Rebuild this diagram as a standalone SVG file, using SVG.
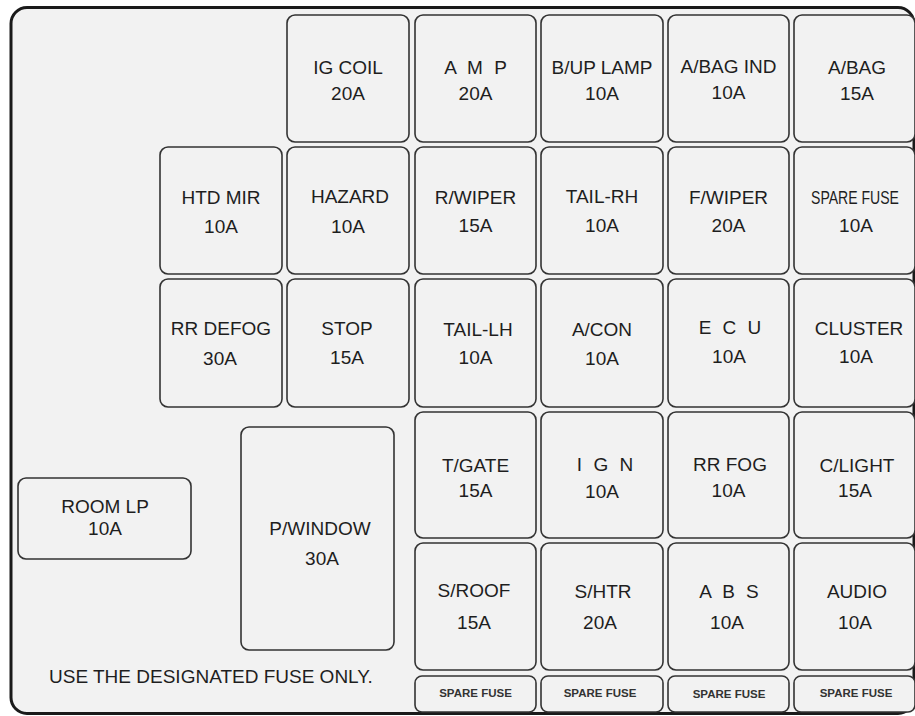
<svg xmlns="http://www.w3.org/2000/svg" width="915" height="716" viewBox="0 0 915 716">
<style>
.bg{fill:#ffffff}
.panel{fill:#f2f2f2;stroke:#1a1a1a;stroke-width:3}
.fuse{fill:#f2f2f2;stroke:#333333;stroke-width:1.6}
text{font-family:"Liberation Sans",Arial,sans-serif;font-size:19px;fill:#1e1e1e;text-anchor:middle}
.sm{font-size:11.5px;font-weight:bold;fill:#333}
.sp{word-spacing:6px}
.note{text-anchor:start}
</style>
<rect class="bg" x="0" y="0" width="915" height="716"/>
<rect class="panel" x="11" y="7.5" width="903" height="706" rx="16"/>

<g id="ig-coil"><rect class="fuse" x="287" y="15" width="122" height="127" rx="8"/><text x="348" y="74">IG COIL</text><text x="348" y="100">20A</text></g>
<g id="amp"><rect class="fuse" x="415" y="15" width="121" height="127" rx="8"/><text class="sp" x="475.5" y="74">A M P</text><text x="475.5" y="100">20A</text></g>
<g id="bup-lamp"><rect class="fuse" x="541" y="15" width="122" height="127" rx="8"/><text x="602" y="74">B/UP LAMP</text><text x="602" y="100">10A</text></g>
<g id="abag-ind"><rect class="fuse" x="668" y="15" width="121" height="127" rx="8"/><text x="728.5" y="73">A/BAG IND</text><text x="728.5" y="99">10A</text></g>
<g id="abag"><rect class="fuse" x="794" y="15" width="121" height="127" rx="8"/><text x="857" y="74">A/BAG</text><text x="857" y="100">15A</text></g>

<g id="htd-mir"><rect class="fuse" x="160" y="147" width="122" height="127" rx="8"/><text x="221" y="204">HTD MIR</text><text x="221" y="233">10A</text></g>
<g id="hazard"><rect class="fuse" x="287" y="147" width="122" height="127" rx="8"/><text x="350" y="203">HAZARD</text><text x="348" y="233">10A</text></g>
<g id="r-wiper"><rect class="fuse" x="415" y="147" width="121" height="127" rx="8"/><text x="475.5" y="204">R/WIPER</text><text x="475.5" y="232">15A</text></g>
<g id="tail-rh"><rect class="fuse" x="541" y="147" width="122" height="127" rx="8"/><text x="602" y="203">TAIL-RH</text><text x="602" y="232">10A</text></g>
<g id="f-wiper"><rect class="fuse" x="668" y="147" width="121" height="127" rx="8"/><text x="728.5" y="204">F/WIPER</text><text x="728.5" y="232">20A</text></g>
<g id="spare-fuse-10a"><rect class="fuse" x="794" y="147" width="121" height="127" rx="8"/><text transform="translate(855,204) scale(0.74,1)" x="0" y="0">SPARE FUSE</text><text x="856" y="232">10A</text></g>

<g id="rr-defog"><rect class="fuse" x="160" y="279" width="122" height="128" rx="8"/><text x="221" y="335">RR DEFOG</text><text x="220" y="365">30A</text></g>
<g id="stop"><rect class="fuse" x="287" y="279" width="122" height="128" rx="8"/><text x="347" y="335">STOP</text><text x="347" y="364">15A</text></g>
<g id="tail-lh"><rect class="fuse" x="415" y="279" width="121" height="128" rx="8"/><text x="478" y="336">TAIL-LH</text><text x="475.5" y="364">10A</text></g>
<g id="a-con"><rect class="fuse" x="541" y="279" width="122" height="128" rx="8"/><text x="602" y="336">A/CON</text><text x="602" y="365">10A</text></g>
<g id="ecu"><rect class="fuse" x="668" y="279" width="121" height="128" rx="8"/><text class="sp" x="730" y="334">E C U</text><text x="729" y="363">10A</text></g>
<g id="cluster"><rect class="fuse" x="794" y="279" width="121" height="128" rx="8"/><text x="859" y="335">CLUSTER</text><text x="856" y="363">10A</text></g>

<g id="room-lp"><rect class="fuse" x="18" y="478" width="173" height="81" rx="8"/><text x="105" y="513">ROOM LP</text><text x="105" y="535">10A</text></g>
<g id="p-window"><rect class="fuse" x="241" y="427" width="153" height="223" rx="8"/><text x="320" y="535">P/WINDOW</text><text x="322" y="565">30A</text></g>

<g id="t-gate"><rect class="fuse" x="415" y="412" width="121" height="126" rx="8"/><text x="475.5" y="472">T/GATE</text><text x="475.5" y="497">15A</text></g>
<g id="ign"><rect class="fuse" x="541" y="412" width="122" height="126" rx="8"/><text class="sp" x="605" y="471">I G N</text><text x="602" y="498">10A</text></g>
<g id="rr-fog"><rect class="fuse" x="668" y="412" width="121" height="126" rx="8"/><text x="730" y="471">RR FOG</text><text x="728.5" y="497">10A</text></g>
<g id="c-light"><rect class="fuse" x="794" y="412" width="121" height="126" rx="8"/><text x="857" y="472">C/LIGHT</text><text x="855" y="497">15A</text></g>

<g id="s-roof"><rect class="fuse" x="415" y="543" width="121" height="127" rx="8"/><text x="474" y="597">S/ROOF</text><text x="474" y="629">15A</text></g>
<g id="s-htr"><rect class="fuse" x="541" y="543" width="122" height="127" rx="8"/><text x="603" y="598">S/HTR</text><text x="600" y="629">20A</text></g>
<g id="abs"><rect class="fuse" x="668" y="543" width="121" height="127" rx="8"/><text class="sp" x="729" y="598">A B S</text><text x="727" y="629">10A</text></g>
<g id="audio"><rect class="fuse" x="794" y="543" width="121" height="127" rx="8"/><text x="857" y="598">AUDIO</text><text x="855" y="629">10A</text></g>

<g id="spare-1"><rect class="fuse" x="415" y="676" width="121" height="36" rx="7"/><text class="sm" x="475.5" y="697">SPARE FUSE</text></g>
<g id="spare-2"><rect class="fuse" x="541" y="676" width="122" height="36" rx="7"/><text class="sm" x="600" y="697">SPARE FUSE</text></g>
<g id="spare-3"><rect class="fuse" x="668" y="676" width="121" height="36" rx="7"/><text class="sm" x="729" y="698">SPARE FUSE</text></g>
<g id="spare-4"><rect class="fuse" x="794" y="676" width="121" height="36" rx="7"/><text class="sm" x="856" y="697">SPARE FUSE</text></g>

<g id="connectors"></g>

<text class="note" x="49" y="683">USE THE DESIGNATED FUSE ONLY.</text>
</svg>
